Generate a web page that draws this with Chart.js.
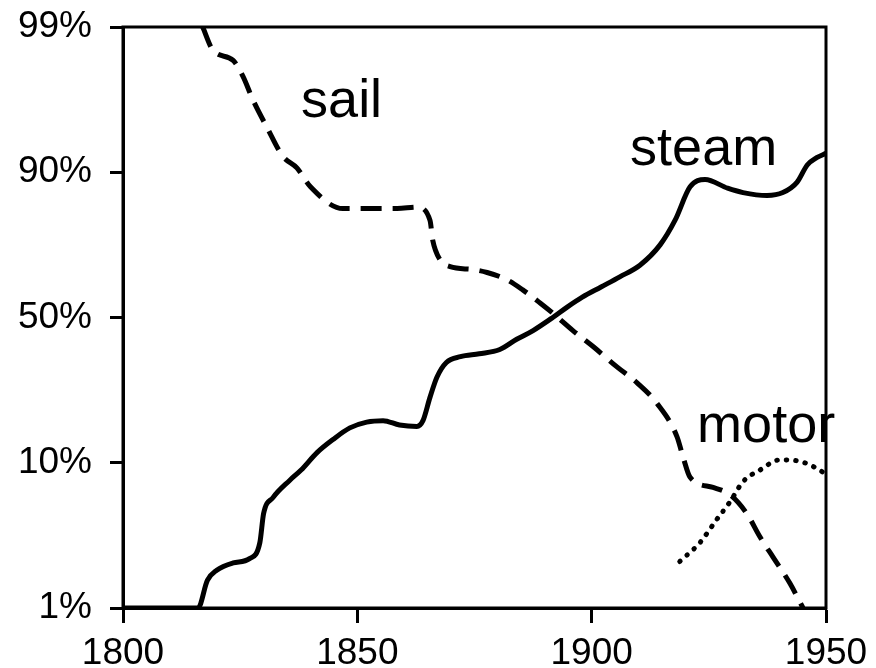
<!DOCTYPE html>
<html lang="en">
<head>
    <meta charset="UTF-8">
    <title>Sail, steam and motor</title>
    <script src="https://cdn.jsdelivr.net/npm/chart.js"></script>
    <style>
        body { margin: 0; background: #fff; }
    </style>
</head>
<body>
    <canvas id="shareChart" width="876" height="668"></canvas>

    <script>
        // y values are positions on the logit-style axis, one unit per tick step
        // (0 = 1%, 1 = 10%, 2 = 50%, 3 = 90%, 4 = 99%)
        const yTickLabels = ['1%', '10%', '50%', '90%', '99%'];
        const xTicks = [1800, 1850, 1900, 1950];

        const steamYears = [1800, 1816, 1818, 1820, 1823.5, 1827, 1829.2, 1830, 1832, 1835.6,
            1838, 1841.4, 1844.8, 1848.4, 1852, 1855.5, 1859, 1862.7, 1864, 1865.5,
            1867, 1869, 1872, 1876, 1880.4, 1884, 1887.5, 1891.7, 1894.7, 1898,
            1902, 1906, 1910.3, 1914.6, 1917.8, 1921, 1924.2, 1929, 1932.3, 1937.4,
            1940.8, 1943.8, 1946, 1948, 1950];
        const steamPos = [0, 0, 0.19, 0.26, 0.31, 0.34, 0.45, 0.65, 0.76, 0.88,
            0.95, 1.07, 1.16, 1.24, 1.28, 1.29, 1.26, 1.25, 1.29, 1.45,
            1.59, 1.69, 1.73, 1.75, 1.78, 1.85, 1.91, 2.00, 2.07, 2.14,
            2.21, 2.28, 2.36, 2.50, 2.67, 2.90, 2.95, 2.89, 2.86, 2.84,
            2.86, 2.93, 3.05, 3.10, 3.13];

        const sailYears = [1817, 1819.2, 1823.5, 1825.6, 1827.7, 1830.7, 1834.1, 1837.1, 1840, 1846.9,
            1852, 1858.5, 1862.7, 1865.5, 1866.1, 1867.6, 1869.8, 1874.7, 1877.7, 1881.9,
            1885.3, 1889, 1891.7, 1896, 1900.3, 1905.4, 1909.7, 1913.9, 1918.2, 1919.5,
            1921, 1925.9, 1929.5, 1933.1, 1935.9, 1938.7, 1942.3, 1945.1];
        const sailPos = [4.0, 3.84, 3.77, 3.66, 3.50, 3.31, 3.11, 3.03, 2.90, 2.75,
            2.75, 2.75, 2.76, 2.67, 2.53, 2.40, 2.35, 2.33, 2.31, 2.26,
            2.19, 2.10, 2.03, 1.91, 1.80, 1.66, 1.55, 1.41, 1.18, 1.04,
            0.90, 0.83, 0.78, 0.65, 0.49, 0.35, 0.17, 0.0];

        const motorYears = [1918.8, 1923.1, 1926.7, 1929.5, 1932.3, 1935.9, 1940.2, 1944.4, 1948.1, 1950];
        const motorPos = [0.32, 0.45, 0.61, 0.73, 0.87, 0.95, 1.02, 1.01, 0.96, 0.92];

        const curveLabels = [
            { text: 'sail', year: 1838, pos: 3.38 },
            { text: 'steam', year: 1908.2, pos: 3.05 },
            { text: 'motor', year: 1922.5, pos: 1.14 }
        ];

        const pts = (xs, ys) => xs.map((x, i) => ({ x: x, y: ys[i] }));

        // draws the curve names and the top/right frame of the plot box
        const extras = {
            id: 'extras',
            afterDatasetsDraw(chart) {
                const { ctx, chartArea, scales } = chart;
                ctx.save();
                ctx.strokeStyle = '#000';
                ctx.lineWidth = 3;
                ctx.strokeRect(chartArea.left, chartArea.top, chartArea.right - chartArea.left, chartArea.bottom - chartArea.top);
                ctx.fillStyle = '#000';
                ctx.font = '54px "Liberation Sans", Arial, sans-serif';
                ctx.textAlign = 'left';
                ctx.textBaseline = 'alphabetic';
                curveLabels.forEach(l => {
                    ctx.fillText(l.text, scales.x.getPixelForValue(l.year), scales.y.getPixelForValue(l.pos));
                });
                ctx.restore();
            }
        };

        const tickFont = { family: '"Liberation Sans", Arial, sans-serif', size: 37 };

        new Chart(document.getElementById('shareChart'), {
            type: 'line',
            data: {
                datasets: [
                    {
                        label: 'steam',
                        data: pts(steamYears, steamPos),
                        borderColor: '#000',
                        borderWidth: 5,
                        pointRadius: 0,
                        cubicInterpolationMode: 'monotone'
                    },
                    {
                        label: 'sail',
                        data: pts(sailYears, sailPos),
                        borderColor: '#000',
                        borderWidth: 5,
                        borderDash: [21, 11],
                        pointRadius: 0,
                        cubicInterpolationMode: 'monotone'
                    },
                    {
                        label: 'motor',
                        data: pts(motorYears, motorPos),
                        borderColor: '#000',
                        borderWidth: 5,
                        borderDash: [0.5, 9],
                        borderCapStyle: 'round',
                        pointRadius: 0,
                        cubicInterpolationMode: 'monotone'
                    }
                ]
            },
            options: {
                responsive: false,
                animation: false,
                layout: { padding: 0 },
                plugins: {
                    legend: { display: false },
                    tooltip: { enabled: false }
                },
                scales: {
                    x: {
                        type: 'linear',
                        min: 1800,
                        max: 1950,
                        afterFit: s => { s.height = 60; s.paddingLeft = 0; s.paddingRight = 0; },
                        afterBuildTicks: s => { s.ticks = xTicks.map(v => ({ value: v })); },
                        border: { color: '#000', width: 3 },
                        grid: { drawOnChartArea: false, tickLength: 15, tickColor: '#000', tickWidth: 3 },
                        ticks: { color: '#000', font: tickFont, padding: 9, maxRotation: 0, callback: v => String(v) }
                    },
                    y: {
                        type: 'linear',
                        min: 0,
                        max: 4,
                        afterFit: s => { s.width = 123; s.paddingTop = 0; s.paddingBottom = 0; },
                        afterBuildTicks: s => { s.ticks = yTickLabels.map((t, i) => ({ value: i })); },
                        border: { color: '#000', width: 3 },
                        grid: { drawOnChartArea: false, tickLength: 13, tickColor: '#000', tickWidth: 3 },
                        ticks: { color: '#000', font: tickFont, padding: 18, callback: v => yTickLabels[v] }
                    },
                    x2: {
                        type: 'linear',
                        position: 'top',
                        min: 1800,
                        max: 1950,
                        afterFit: s => { s.height = 27; },
                        border: { display: false },
                        grid: { display: false },
                        ticks: { display: false }
                    },
                    y2: {
                        type: 'linear',
                        position: 'right',
                        min: 0,
                        max: 4,
                        afterFit: s => { s.width = 50; },
                        border: { display: false },
                        grid: { display: false },
                        ticks: { display: false }
                    }
                }
            },
            plugins: [extras]
        });
    </script>
</body>
</html>
